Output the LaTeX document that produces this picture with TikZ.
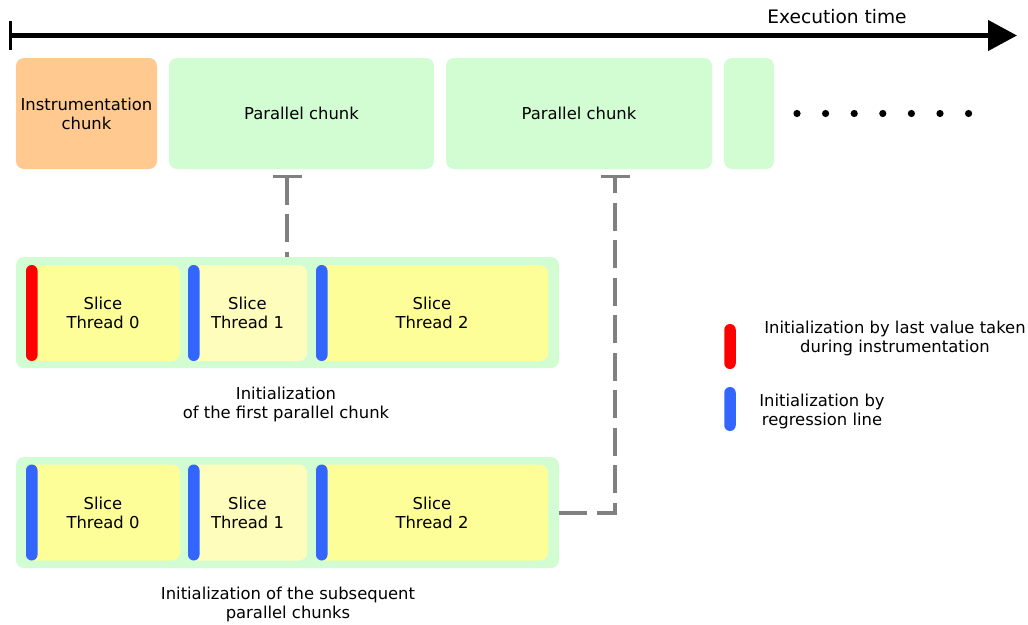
\documentclass[tikz,border=0pt]{standalone}
\usepackage{fontspec}
\setmainfont{DejaVu Sans}
\usetikzlibrary{arrows.meta}
\definecolor{chunkorange}{HTML}{FFC98F}
\definecolor{chunkgreen}{HTML}{D2FDD2}
\definecolor{sliceyellow}{HTML}{FEFE98}
\definecolor{slicepale}{HTML}{FFFDBC}
\definecolor{initred}{HTML}{FF0000}
\definecolor{initblue}{HTML}{3366FF}
\definecolor{linkgray}{HTML}{808080}

\begin{document}
\begin{tikzpicture}[x=1pt,y=-1pt,
  txt/.style={font=\fontsize{16.4}{19}\selectfont, align=center, inner sep=0pt},
  box/.style={txt, rectangle, rounded corners=8pt, minimum height=111pt},
  chunkbox/.style={box, fill=chunkgreen},
  slicebox/.style={txt, rectangle, rounded corners=8pt, minimum height=96pt},
  pill/.style={rectangle, rounded corners=5.7pt, minimum width=11.5pt,
               minimum height=96pt, inner sep=0pt, anchor=west},
  link/.style={draw=linkgray, line width=4pt, dash pattern=on 28pt off 9.5pt},
]
\useasboundingbox (0,0) rectangle (1028,624);

% time axis
\coordinate (t0) at (9,35.5);
\coordinate (t1) at (1017,35.5);
\draw[line width=4.5pt, {Bar[width=29pt,line width=2.5pt]}-{Triangle[length=29pt,width=30pt]}] (t0) -- (t1);
\node[txt, font=\fontsize{18.6}{22}\selectfont, anchor=base] (exec) at (837,23) {Execution time};

% chunks along the time axis
\node[box, fill=chunkorange, minimum width=141pt] (instr) at (86.5,113.5) {Instrumentation\\chunk};
\node[chunkbox, minimum width=265pt] (par1) at (301.5,113.5) {Parallel chunk};
\node[chunkbox, minimum width=266pt] (par2) at (579,113.5) {Parallel chunk};
\node[chunkbox, minimum width=50pt] (par3) at (749,113.5) {};
\foreach \i in {0,...,6} \fill (797+28.6*\i,113.5) circle (3.6pt);

% first parallel chunk: slices per thread
\node[box, fill=chunkgreen, minimum width=543pt] (grpA) at (287.5,312.5) {};
\node[slicebox, fill=sliceyellow, minimum width=154pt] (a0) at (103,313) {Slice\\Thread 0};
\node[slicebox, fill=slicepale, minimum width=119pt] (a1) at (247.5,313) {Slice\\Thread 1};
\node[slicebox, fill=sliceyellow, minimum width=232pt] (a2) at (432,313) {Slice\\Thread 2};
\node[pill, fill=initred] (pa0) at (a0.west) {};
\node[pill, fill=initblue] (pa1) at (a1.west) {};
\node[pill, fill=initblue] (pa2) at (a2.west) {};
\node[txt] (labA) at (286,404) {Initialization\\of the first parallel chunk};

% subsequent parallel chunks: slices per thread
\node[box, fill=chunkgreen, minimum width=543pt] (grpB) at (287.5,512.5) {};
\node[slicebox, fill=sliceyellow, minimum width=154pt] (b0) at (103,512.5) {Slice\\Thread 0};
\node[slicebox, fill=slicepale, minimum width=119pt] (b1) at (247.5,512.5) {Slice\\Thread 1};
\node[slicebox, fill=sliceyellow, minimum width=232pt] (b2) at (432,512.5) {Slice\\Thread 2};
\node[pill, fill=initblue] (pb0) at (b0.west) {};
\node[pill, fill=initblue] (pb1) at (b1.west) {};
\node[pill, fill=initblue] (pb2) at (b2.west) {};
\node[txt] (labB) at (288,604) {Initialization of the subsequent\\parallel chunks};

% links to the chunks they initialise
\coordinate (teeA) at (287,175);
\coordinate (teeB) at (615,175);
\draw[link, {Bar[width=29pt,line width=2.5pt]}-] (teeA) -- (teeA |- grpA.north);
\draw[link, -{Bar[width=29pt,line width=2.5pt]}] (grpB.east) -| (teeB);

% legend
\node[pill, anchor=center, minimum height=45pt, fill=initred] (legR) at (730,346.5) {};
\node[pill, anchor=center, minimum height=44pt, fill=initblue] (legB) at (730,409) {};
\node[txt] (legRtxt) at (895,338.5) {Initialization by last value taken\\during instrumentation};
\node[txt] (legBtxt) at (822,411) {Initialization by\\regression line};
\end{tikzpicture}
\end{document}
